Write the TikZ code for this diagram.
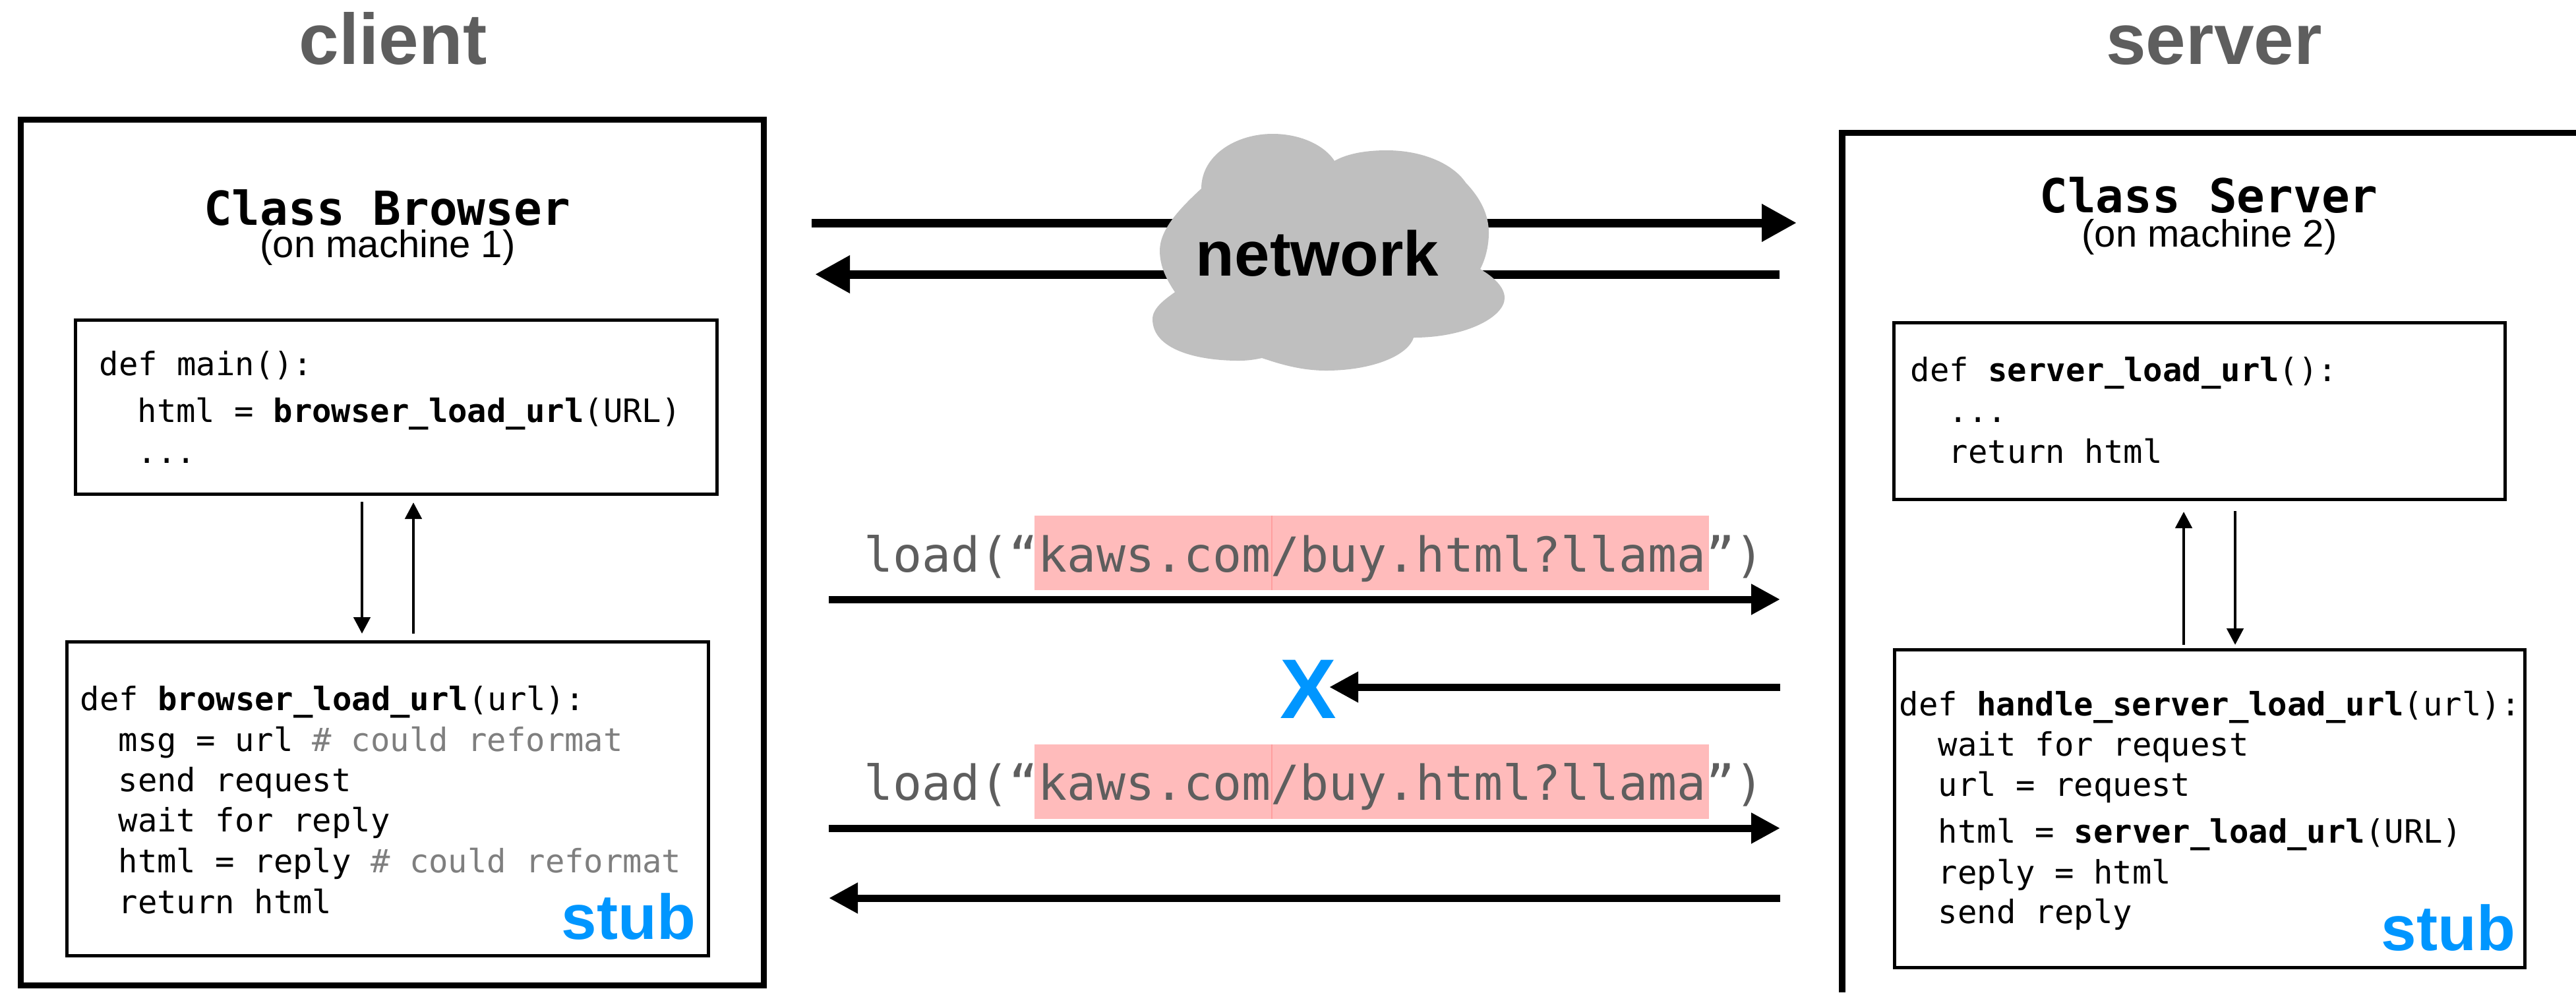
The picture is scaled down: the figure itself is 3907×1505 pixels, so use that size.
\documentclass[tikz,border=0pt]{standalone}
\usepackage{xcolor}
\usepackage{fontspec}
\usetikzlibrary{arrows.meta}
\setmainfont{Liberation Sans}
\setmonofont{DejaVu Sans Mono}
\definecolor{labelgray}{HTML}{5E5E5E}
\definecolor{commentgray}{HTML}{7F7F7F}
\definecolor{cloudgray}{HTML}{BFBFBF}
\definecolor{stubblue}{HTML}{0096FF}
\definecolor{urlpink}{HTML}{FFBBBB}
\definecolor{urlline}{HTML}{FF9E9E}
\tikzset{
  machinebox/.style={draw, line width=0.095cm, inner sep=0pt},
  codebox/.style={draw, line width=0.05cm, inner sep=0pt},
  side/.style={inner sep=0pt, anchor=base, text=labelgray, font=\fontsize{31}{34}\selectfont\bfseries},
  classname/.style={inner sep=0pt, anchor=base, font=\fontsize{20.2}{22}\selectfont\ttfamily\bfseries},
  machinename/.style={inner sep=0pt, anchor=base, font=\fontsize{16.5}{18}\selectfont},
  codeline/.style={inner sep=0pt, anchor=base west, font=\fontsize{13.9}{16}\selectfont\ttfamily},
  loadline/.style={inner sep=0pt, anchor=base west, text=labelgray, font=\fontsize{20.8}{24}\selectfont\ttfamily},
  stub/.style={inner sep=0pt, anchor=base east, text=stubblue, font=\fontsize{27.4}{30}\selectfont\bfseries},
  callarrow/.style={line width=0.048cm, -{Triangle[length=0.25cm, width=0.25cm]}},
  netarrow/.style={line width=0.13cm, -{Triangle[length=0.53cm, width=0.54cm]}},
  msgarrow/.style={line width=0.11cm, -{Triangle[length=0.44cm, width=0.44cm]}},
}
\newcommand{\cmt}[1]{\textcolor{commentgray}{#1}}
\begin{document}
\begin{tikzpicture}[x=0.01cm, y=-0.01cm]
  \useasboundingbox (0,0) rectangle (3907,1505);

  % client side
  \node[side] (clientlabel) at (596,97) {client};
  \node[machinebox, minimum width=11.26cm, minimum height=13.12cm] (clientbox) at (595,838) {};
  \node[classname] (browsername) at (587,341) {Class Browser};
  \node[machinename] (browsermachine) at (588,390) {(on machine 1)};
  \node[codebox, minimum width=9.72cm, minimum height=2.63cm] (mainbox) at (601,617.5) {};
  \node[codebox, minimum width=9.72cm, minimum height=4.75cm] (browserstub) at (588,1211.5) {};

  \foreach \x/\y/\code [count=\n] in {
      150/569/{def main():},
      208/640/{html = \textbf{browser\_load\_url}(URL)},
      208/702/{...}%
    } {
    \node[codeline] (mainline\n) at (\x,\y) {\code};
  }
  \foreach \x/\y/\code [count=\n] in {
      121/1077/{def \textbf{browser\_load\_url}(url):},
      179/1139/{msg = url \cmt{\# could reformat}},
      179/1200/{send request},
      179/1261/{wait for reply},
      179/1323/{html = reply \cmt{\# could reformat}},
      179/1385/{return html}%
    } {
    \node[codeline] (browserline\n) at (\x,\y) {\code};
  }
  \node[stub] (browserstublabel) at (1056,1424) {stub};

  \coordinate (maindownstart) at (549,761);
  \coordinate (maindownend) at (549,961);
  \coordinate (mainupstart) at (627,961);
  \coordinate (mainupend) at (627,762);
  \draw[callarrow] (maindownstart) -- (maindownend);
  \draw[callarrow] (mainupstart) -- (mainupend);

  % server side
  \node[side] (serverlabel) at (3358,97) {server};
  \draw[line width=0.095cm] (2794,1505) -- (2794,201.5) -- (3907,201.5);
  \node[classname] (servername) at (3350,322) {Class Server};
  \node[machinename] (servermachine) at (3351,374) {(on machine 2)};
  \node[codebox, minimum width=9.27cm, minimum height=2.67cm] (loadbox) at (3336,623.5) {};
  \node[codebox, minimum width=9.55cm, minimum height=4.81cm] (handlebox) at (3351.5,1226.5) {};

  \foreach \x/\y/\code [count=\n] in {
      2897/578/{def \textbf{server\_load\_url}():},
      2955/640/{...},
      2955/702/{return html}%
    } {
    \node[codeline] (loadline\n) at (\x,\y) {\code};
  }
  \foreach \x/\y/\code [count=\n] in {
      2880/1085/{def \textbf{handle\_server\_load\_url}(url):},
      2939/1146/{wait for request},
      2939/1207/{url = request},
      2939/1278/{html = \textbf{server\_load\_url}(URL)},
      2939/1340/{reply = html},
      2939/1400/{send reply}%
    } {
    \node[codeline] (handleline\n) at (\x,\y) {\code};
  }
  \node[stub] (serverstublabel) at (3816,1441) {stub};

  \coordinate (loadupstart) at (3312,978);
  \coordinate (loadupend) at (3312,776);
  \coordinate (loaddownstart) at (3390,775);
  \coordinate (loaddownend) at (3390,978);
  \draw[callarrow] (loadupstart) -- (loadupend);
  \draw[callarrow] (loaddownstart) -- (loaddownend);

  % network
  \coordinate (netrightstart) at (1231,338);
  \coordinate (netrightend) at (2725,338);
  \coordinate (netleftstart) at (2699,416);
  \coordinate (netleftend) at (1236,416);
  \draw[netarrow] (netrightstart) -- (netrightend);
  \draw[netarrow] (netleftstart) -- (netleftend);
  \fill[cloudgray] (1822,286)
    .. controls (1822,235) and (1875,203) .. (1930,203)
    .. controls (1975,203) and (2010,222) .. (2024,244)
    .. controls (2045,232) and (2075,228) .. (2103,228)
    .. controls (2160,228) and (2205,250) .. (2223,277)
    .. controls (2245,300) and (2258,325) .. (2258,353)
    .. controls (2258,375) and (2252,395) .. (2245,408)
    .. controls (2265,420) and (2282,435) .. (2282,452)
    .. controls (2282,480) and (2225,512) .. (2144,512)
    .. controls (2135,540) and (2080,562) .. (2011,562)
    .. controls (1970,562) and (1935,550) .. (1914,543)
    .. controls (1900,546) and (1890,547) .. (1879,547)
    .. controls (1815,547) and (1748,530) .. (1748,484)
    .. controls (1748,468) and (1765,455) .. (1782,443)
    .. controls (1770,425) and (1759,405) .. (1759,380)
    .. controls (1759,350) and (1785,320) .. (1822,286) -- cycle;
  \node[inner sep=0pt, anchor=base, font=\fontsize{27.3}{30}\selectfont\bfseries] (networklabel) at (1998,418) {network};

  % messages
  \foreach \top/\base [count=\n] in {782/867, 1129/1213} {
    \fill[urlpink] (1569,\top) rectangle (2592,\top+113);
    \draw[urlline, line width=0.02cm] (1929,\top) -- (1929,\top+113);
    \node[loadline] (loadtext\n) at (1310,\base) {load(“kaws.com/buy.html?llama”)};
  }
  \node[inner sep=0pt, anchor=base, text=stubblue, font=\fontsize{36.5}{40}\selectfont\bfseries] (lostmark) at (1984,1089) {X};

  \coordinate (firststart) at (1257,909);
  \coordinate (firstend) at (2700,909);
  \coordinate (loststart) at (2700,1042);
  \coordinate (lostend) at (2016,1042);
  \coordinate (secondstart) at (1257,1256);
  \coordinate (secondend) at (2700,1256);
  \coordinate (replystart) at (2700,1362);
  \coordinate (replyend) at (1257,1362);
  \draw[msgarrow] (firststart) -- (firstend);
  \draw[msgarrow] (loststart) -- (lostend);
  \draw[msgarrow] (secondstart) -- (secondend);
  \draw[msgarrow] (replystart) -- (replyend);
\end{tikzpicture}
\end{document}
